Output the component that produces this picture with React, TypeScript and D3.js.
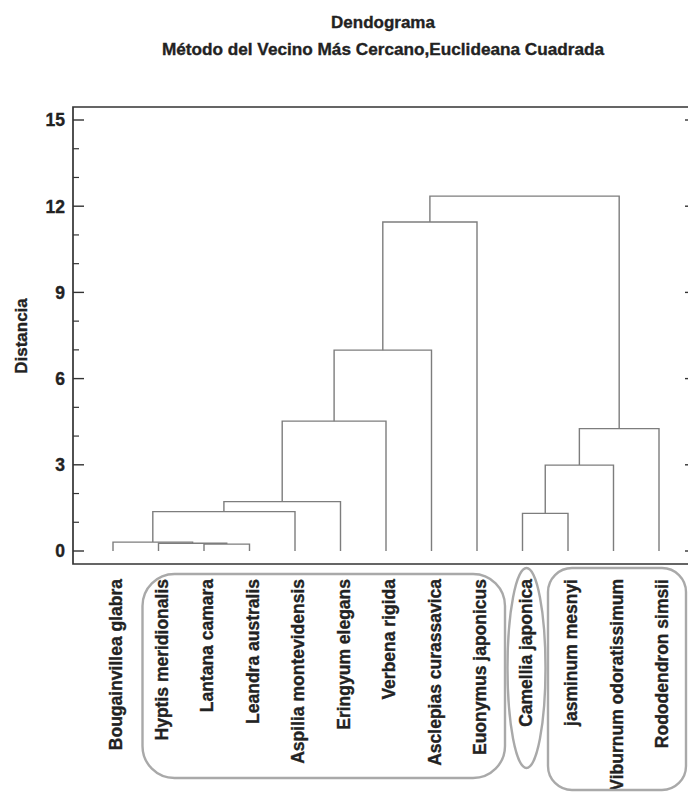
import React from "react";
import * as d3 from "d3";

const title = "Dendograma";
const subtitle = "Método del Vecino Más Cercano,Euclideana Cuadrada";
const yAxisLabel = "Distancia";

const leaves = [
  "Bougainvillea glabra",
  "Hyptis meridionalis",
  "Lantana camara",
  "Leandra australis",
  "Aspilia montevidensis",
  "Eringyum elegans",
  "Verbena rigida",
  "Asclepias curassavica",
  "Euonymus japonicus",
  "Camellia japonica",
  "jasminum mesnyi",
  "Viburnum odoratissimum",
  "Rododendron simsii",
];

// linkage: [childA, childB, distance]; new node ids start at leaves.length
const mergeA = [2, 1, 0, 15, 16, 17, 18, 19, 9, 21, 22, 20];
const mergeB = [3, 13, 14, 4, 5, 6, 7, 8, 10, 11, 12, 23];
const mergeHeight = [0.24, 0.27, 0.31, 1.37, 1.72, 4.52, 6.99, 11.45, 1.31, 2.99, 4.26, 12.35];

const yTicks = [0, 3, 6, 9, 12, 15];
const yMinorTicks = [1, 2, 4, 5, 7, 8, 10, 11, 13, 14];

const W = 688;
const H = 792;
const frame = { left: 73, right: 692, top: 107, bottom: 564 };
const lineColor = "#7d7d7d";
const textColor = "#222";
const boxColor = "#a9a9a9";
const font = "'Liberation Sans', Arial, sans-serif";

export default function App() {
  const x = d3
    .scalePoint<string>()
    .domain(leaves)
    .range([frame.left + 40, frame.right - 33]);
  const y = d3.scaleLinear().domain([0, 15]).range([551, 120]);

  const nodeX: number[] = leaves.map((l) => x(l) as number);
  const nodeH: number[] = leaves.map(() => 0);
  const paths: string[] = [];
  mergeA.forEach((a, i) => {
    const b = mergeB[i];
    const h = mergeHeight[i];
    const p = d3.path();
    p.moveTo(nodeX[a], y(nodeH[a]));
    p.lineTo(nodeX[a], y(h));
    p.lineTo(nodeX[b], y(h));
    p.lineTo(nodeX[b], y(nodeH[b]));
    paths.push(p.toString());
    nodeX.push((nodeX[a] + nodeX[b]) / 2);
    nodeH.push(h);
  });

  const labelTop = 579;
  const lx = (i: number) => x(leaves[i]) as number;
  const heavy = { stroke: textColor, strokeWidth: 0.35 };

  return (
    <svg
      width={W}
      height={H}
      style={{ position: "absolute", left: 0, top: 0, background: "#fff" }}
      fontFamily={font}
    >
      <text x={383} y={28} textAnchor="middle" fontSize={17} fontWeight="bold" fill={textColor} {...heavy}>
        {title}
      </text>
      <text x={383} y={55} textAnchor="middle" fontSize={17.2} fontWeight="bold" fill={textColor} {...heavy}>
        {subtitle}
      </text>

      {/* frame */}
      <path
        d={`M${frame.left},${frame.bottom}V${frame.top}H${frame.right}V${frame.bottom}Z`}
        fill="none"
        stroke="#333"
        strokeWidth={1.7}
      />
      {yTicks.map((t) => (
        <g key={"t" + t}>
          <line x1={frame.left} x2={frame.left + 11} y1={y(t)} y2={y(t)} stroke="#333" strokeWidth={1.4} />
          <line x1={frame.right - 7} x2={frame.right} y1={y(t)} y2={y(t)} stroke="#333" strokeWidth={1.4} />
          <text
            x={frame.left - 8}
            y={y(t)}
            dy="0.36em"
            textAnchor="end"
            fontSize={17.5}
            fontWeight="bold"
            fill={textColor}
            {...heavy}
          >
            {t}
          </text>
        </g>
      ))}
      {yMinorTicks.map((t) => (
        <line key={"m" + t} x1={frame.left} x2={frame.left + 6} y1={y(t)} y2={y(t)} stroke="#333" strokeWidth={1.2} />
      ))}
      <text
        transform={`translate(21,336) rotate(-90)`}
        textAnchor="middle"
        dy="0.36em"
        fontSize={17}
        fontWeight="bold"
        fill={textColor}
        {...heavy}
      >
        {yAxisLabel}
      </text>

      {/* dendrogram */}
      {paths.map((d, i) => (
        <path key={i} d={d} fill="none" stroke={lineColor} strokeWidth={1.4} />
      ))}

      {/* leaf labels */}
      {leaves.map((l) => (
        <text
          key={l}
          transform={`translate(${(x(l) as number) + 3},${labelTop}) rotate(-90)`}
          textAnchor="end"
          dy="0.36em"
          fontSize={17.5}
          fontWeight="bold"
          fill={textColor}
          {...heavy}
        >
          {l}
        </text>
      ))}

      {/* group annotations */}
      <rect
        x={lx(1) - 16}
        y={574}
        width={lx(8) + 28 - (lx(1) - 16)}
        height={204}
        rx={32}
        ry={32}
        fill="none"
        stroke={boxColor}
        strokeWidth={2.4}
      />
      <ellipse cx={lx(9) + 4} cy={668} rx={19} ry={100} fill="none" stroke={boxColor} strokeWidth={2.4} />
      <rect
        x={lx(10) - 20}
        y={568}
        width={lx(12) + 27 - (lx(10) - 20)}
        height={222}
        rx={24}
        ry={24}
        fill="none"
        stroke={boxColor}
        strokeWidth={2.4}
      />
    </svg>
  );
}
